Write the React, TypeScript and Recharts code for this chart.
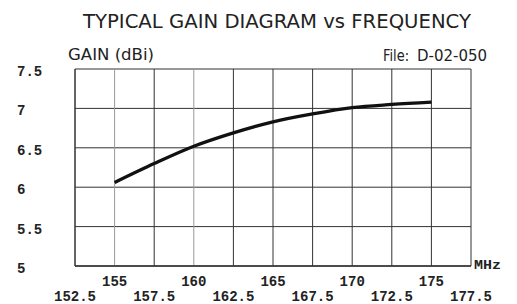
import { LineChart, Line, XAxis, YAxis, CartesianGrid } from 'recharts';

const freqs = [155, 157.5, 160, 162.5, 165, 167.5, 170, 172.5, 175];
const gains = [6.06, 6.3, 6.52, 6.69, 6.83, 6.93, 7.01, 7.05, 7.08];
const xTicks = [152.5, 155, 157.5, 160, 162.5, 165, 167.5, 170, 172.5, 175, 177.5];
const yTicks = [5, 5.5, 6, 6.5, 7, 7.5];
// scanned grid: a couple of the vertical lines print lighter
const lightLines = [155, 160];

const data = freqs.map((f, i) => ({ freq: f, gain: gains[i] }));

const MONO = '"Liberation Mono", "DejaVu Sans Mono", monospace';
const SANS = '"DejaVu Sans", "Liberation Sans", sans-serif';

function XTick({ x, y, payload }: any) {
  const v = payload.value as number;
  const whole = Number.isInteger(v);
  return (
    <text
      x={x}
      y={whole ? y + 12 : y + 27}
      textAnchor="middle"
      fontFamily={MONO}
      fontWeight={700}
      fontSize={14}
      fill="#222"
    >
      {String(v)}
    </text>
  );
}

function YTick({ y, payload }: any) {
  return (
    <text x={17} y={y + 7} textAnchor="start" fontFamily={MONO} fontWeight={700} fontSize={14} fill="#222">
      {String(payload.value)}
    </text>
  );
}

function VLine(props: any) {
  const { x1, y1, x2, y2, index } = props;
  const light = lightLines.includes(xTicks[index]);
  return <line x1={x1} y1={y1} x2={x2} y2={y2} stroke={light ? '#999' : '#333'} strokeWidth={1} />;
}

export default function App() {
  return (
    <div style={{ position: 'absolute', left: 0, top: 0, width: 517, height: 304, background: '#fff' }}>
      <LineChart width={517} height={304} data={data} margin={{ top: 69, right: 46, bottom: 0, left: 0 }}>
        <CartesianGrid stroke="#333" strokeWidth={1} vertical={(p: any) => <VLine key={p.key} {...p} />} />
        <XAxis
          dataKey="freq"
          type="number"
          domain={[152.5, 177.5]}
          ticks={xTicks}
          interval={0}
          height={38}
          tick={<XTick />}
          tickLine={false}
          axisLine={{ stroke: '#333', strokeWidth: 1.5 }}
        />
        <YAxis
          type="number"
          domain={[5, 7.5]}
          ticks={yTicks}
          interval={0}
          width={75}
          tick={<YTick />}
          tickLine={false}
          axisLine={{ stroke: '#333', strokeWidth: 1 }}
        />
        <Line
          dataKey="gain"
          type="monotone"
          stroke="#111"
          strokeWidth={3.3}
          dot={false}
          isAnimationActive={false}
        />
      </LineChart>
      <svg width={517} height={304} style={{ position: 'absolute', left: 0, top: 0, pointerEvents: 'none' }}>
        <text x={83} y={28} fontFamily={SANS} fontSize={20} fill="#222" textLength={388} lengthAdjust="spacingAndGlyphs">
          TYPICAL GAIN DIAGRAM vs FREQUENCY
        </text>
        <text x={68} y={60} fontFamily={SANS} fontSize={16} fill="#222" textLength={86} lengthAdjust="spacingAndGlyphs">
          GAIN (dBi)
        </text>
        <text x={383} y={61} fontFamily={SANS} fontSize={16} fill="#222" textLength={26} lengthAdjust="spacingAndGlyphs">
          File:
        </text>
        <text x={417} y={61} fontFamily={SANS} fontSize={16} fill="#222" textLength={70} lengthAdjust="spacingAndGlyphs">
          D-02-050
        </text>
        <text x={474} y={269} fontFamily={MONO} fontWeight={700} fontSize={12} fill="#222" textLength={27} lengthAdjust="spacingAndGlyphs">
          MHz
        </text>
      </svg>
    </div>
  );
}
